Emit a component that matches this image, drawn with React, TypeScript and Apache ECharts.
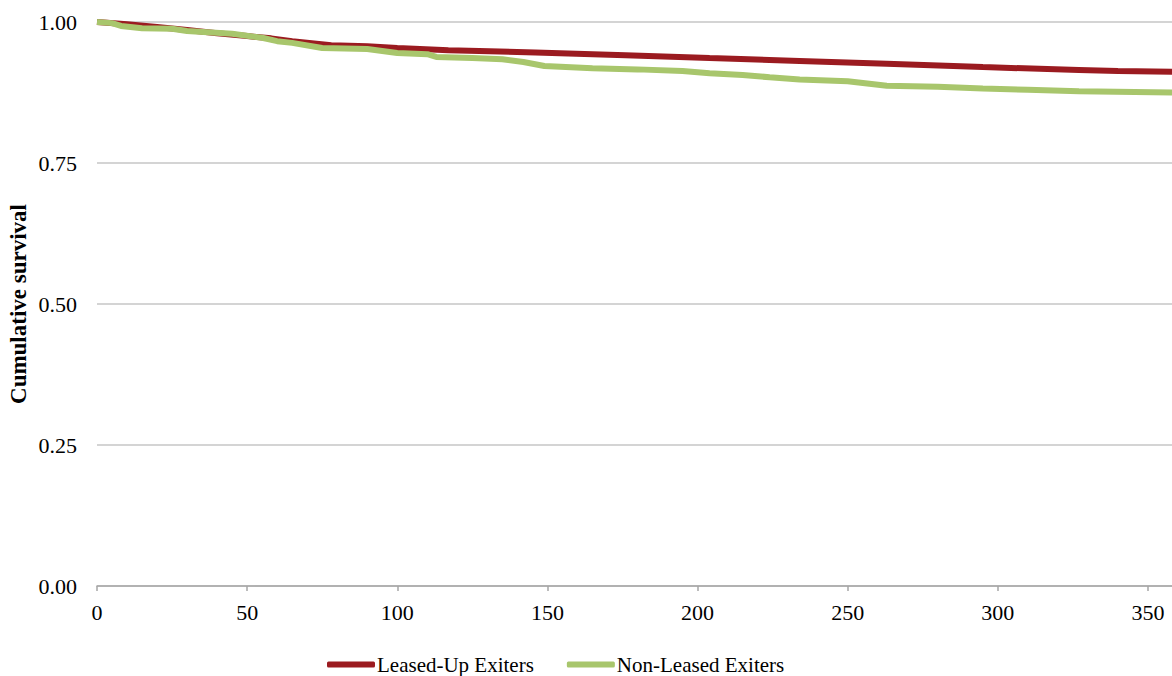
import React, { useEffect, useRef } from "react";
import * as echarts from "echarts";

const xTicks = [0, 50, 100, 150, 200, 250, 300, 350];
const yTicks = [0, 0.25, 0.5, 0.75, 1.0];

const leasedName = "Leased-Up Exiters";
const leasedT = [0, 10, 20, 30, 40, 50, 58, 65, 78, 90, 100, 117, 146, 176, 204, 234, 263, 295, 327, 340, 358];
const leasedS = [1.0, 0.996, 0.991, 0.986, 0.98, 0.975, 0.971, 0.966, 0.959, 0.957, 0.954, 0.95, 0.946, 0.941, 0.936, 0.931, 0.926, 0.92, 0.915, 0.913, 0.912];

const nonName = "Non-Leased Exiters";
const nonT = [0, 5, 8, 15, 25, 30, 45, 55, 60, 65, 75, 90, 100, 110, 113, 125, 135, 142, 149, 165, 180, 195, 204, 215, 224, 234, 250, 263, 280, 295, 310, 327, 358];
const nonS = [1.0, 0.998, 0.993, 0.989, 0.988, 0.984, 0.979, 0.972, 0.966, 0.963, 0.954, 0.952, 0.945, 0.943, 0.938, 0.936, 0.934, 0.929, 0.922, 0.918, 0.916, 0.913, 0.909, 0.906, 0.902, 0.898, 0.895, 0.887, 0.885, 0.882, 0.88, 0.877, 0.875];

const yTitle = "Cumulative survival";

const FONT = "'Liberation Serif', 'DejaVu Serif', serif";

export default function App() {
  const ref = useRef<HTMLDivElement>(null);
  useEffect(() => {
    if (!ref.current) return;
    const chart = echarts.init(ref.current, undefined, { renderer: "svg" });
    const pair = (t: number[], s: number[]) => t.map((v, i) => [v, s[i]]);
    chart.setOption({
      animation: false,
      backgroundColor: "#ffffff",
      textStyle: { fontFamily: FONT },
      grid: { left: 97, right: 0, top: 22, bottom: 90, containLabel: false },
      xAxis: {
        type: "value",
        min: 0,
        max: 358,
        interval: 50,
        axisLine: { show: true, lineStyle: { color: "#A6A6A6", width: 1.5 } },
        axisTick: { show: true, length: 5, lineStyle: { color: "#A6A6A6", width: 1.5 }, customValues: xTicks },
        axisLabel: { color: "#000", fontSize: 22, fontFamily: FONT, margin: 15, customValues: xTicks },
        splitLine: { show: false },
      },
      yAxis: {
        type: "value",
        min: 0,
        max: 1,
        interval: 0.25,
        axisLine: { show: false },
        axisTick: { show: false },
        axisLabel: {
          color: "#000",
          fontSize: 22,
          fontFamily: FONT,
          margin: 20,
          formatter: (v: number) => v.toFixed(2),
        },
        splitLine: { show: true, lineStyle: { color: "#C6C6C6", width: 1.5 } },
      },
      legend: {
        left: 327,
        top: 654,
        padding: 0,
        itemWidth: 48,
        itemHeight: 6,
        itemGap: 33,
        icon: "roundRect",
        textStyle: { fontSize: 21, fontFamily: FONT, color: "#000", padding: [0, 0, 0, -3] },
        data: [leasedName, nonName],
      },
      graphic: [
        {
          type: "text",
          x: 18,
          y: 304,
          rotation: Math.PI / 2,
          style: {
            text: yTitle,
            fontSize: 23,
            fontWeight: "bold",
            fontFamily: FONT,
            fill: "#000",
            textAlign: "center",
            textVerticalAlign: "middle",
          },
        },
      ],
      series: [
        {
          name: leasedName,
          type: "line",
          data: pair(leasedT, leasedS),
          showSymbol: false,
          symbol: "none",
          lineStyle: { color: "#9B1B20", width: 6 },
          itemStyle: { color: "#9B1B20" },
        },
        {
          name: nonName,
          type: "line",
          data: pair(nonT, nonS),
          showSymbol: false,
          symbol: "none",
          lineStyle: { color: "#A8C66C", width: 6 },
          itemStyle: { color: "#A8C66C" },
        },
      ],
    });
    return () => chart.dispose();
  }, []);
  return (
    <div
      ref={ref}
      style={{ position: "fixed", left: 0, top: 0, width: 1172, height: 676, background: "#fff" }}
    />
  );
}
